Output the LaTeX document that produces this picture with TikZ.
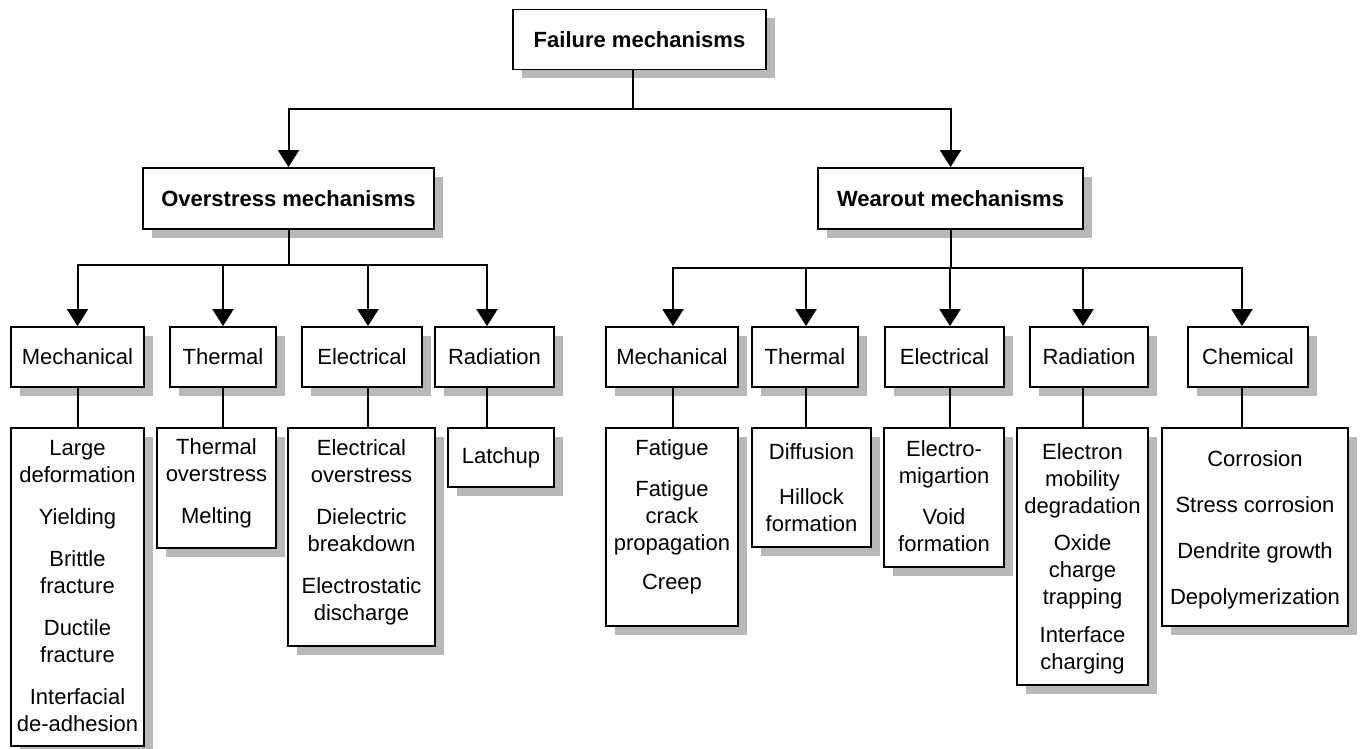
\documentclass[tikz,border=0pt]{standalone}
\usepackage{fontspec}
\setmainfont{Liberation Sans}
\usetikzlibrary{arrows.meta,shadows}
\newcommand{\dtext}[4]{\parbox[c][#2pt][t]{#1pt}{\centering\vspace*{#3pt}#4\par}}
\begin{document}
\begin{tikzpicture}[x=1pt,y=-1pt,
  box/.style={draw, line width=1.8pt, fill=white, inner sep=0pt,
    drop shadow={shadow xshift=9pt, shadow yshift=-9pt, fill=black!28, opacity=1},
    font=\fontsize{22}{27}\selectfont},
  cat/.style={box, minimum height=60pt, align=center},
  head/.style={box, font=\fontsize{22}{27}\selectfont\bfseries, minimum height=60pt},
  det/.style={box, anchor=north},
  ln/.style={line width=2pt},
  arr/.style={ln, -{Triangle[length=17pt,width=21pt]}}]
\useasboundingbox (0,0) rectangle (1360,749);

% top level
\node[head, minimum width=253pt] (fail) at (639.5,39.5) {Failure mechanisms};
\node[head, minimum width=291pt, minimum height=61pt] (over) at (288.5,198.5) {Overstress mechanisms};
\node[head, minimum width=265pt, minimum height=61pt] (wear) at (950.5,198.5) {Wearout mechanisms};

% categories
\node[cat, minimum width=133pt] (om) at (77.5,357) {Mechanical};
\node[cat, minimum width=106pt] (ot) at (223,357) {Thermal};
\node[cat, minimum width=120pt] (oe) at (362,357) {Electrical};
\node[cat, minimum width=119pt] (or) at (494.5,357) {Radiation};
\node[cat, minimum width=132pt] (wm) at (672,357) {Mechanical};
\node[cat, minimum width=106pt] (wt) at (805,357) {Thermal};
\node[cat, minimum width=119pt] (we) at (944.5,357) {Electrical};
\node[cat, minimum width=118pt] (wr) at (1089,357) {Radiation};
\node[cat, minimum width=120pt] (wc) at (1248,357) {Chemical};

% details
\node[det] (omd) at (77.5,427) {\dtext{133}{318}{12}{Large\\deformation\\[15pt]Yielding\\[15pt]Brittle\\fracture\\[15pt]Ductile\\fracture\\[15pt]Interfacial\\de-adhesion}};
\node[det] (otd) at (216.5,427) {\dtext{119}{120}{11}{Thermal\\overstress\\[15pt]Melting}};
\node[det] (oed) at (361.5,427) {\dtext{147}{218}{12}{Electrical\\overstress\\[15pt]Dielectric\\breakdown\\[15pt]Electrostatic\\discharge}};
\node[det] (ord) at (501,427) {\dtext{106}{59}{20}{Latchup}};
\node[det] (wmd) at (672,427) {\dtext{132}{198}{12}{Fatigue\\[14pt]Fatigue\\crack\\propagation\\[12pt]Creep}};
\node[det] (wtd) at (811.5,427) {\dtext{119}{119}{16}{Diffusion\\[18pt]Hillock\\formation}};
\node[det] (wed) at (944,427) {\dtext{120}{139}{13}{Electro-\\migartion\\[14pt]Void\\formation}};
\node[det] (wrd) at (1082.5,427) {\dtext{131}{257}{16}{Electron\\mobility\\degradation\\[10pt]Oxide\\charge\\trapping\\[11pt]Interface\\charging}};
\node[det] (wcd) at (1255,427) {\dtext{186}{198}{23}{Corrosion\\[19pt]Stress corrosion\\[19pt]Dendrite growth\\[19pt]Depolymerization}};

% connectors: top level
\draw[ln] ([xshift=-6.5pt]fail.south) -- ++(0,39) coordinate (j0);
\draw[arr] (j0) -| (over.north);
\draw[arr] (j0) -| (wear.north);

% overstress branch
\draw[ln] (over.south) -- ++(0,35) coordinate (j1);
\draw[arr] (j1) -| (om.north);
\draw[arr] (j1) -| (ot.north);
\draw[arr] (j1) -| ([xshift=6pt]oe.north);
\draw[arr] (j1) -| ([xshift=-7.5pt]or.north);

% wearout branch
\draw[ln] (wear.south) -- ++(0,38) coordinate (j2);
\draw[arr] (j2) -| ([xshift=1pt]wm.north);
\draw[arr] (j2) -| ([xshift=1pt]wt.north);
\draw[arr] (j2) -| ([xshift=5.5pt]we.north);
\draw[arr] (j2) -| ([xshift=-6pt]wr.north);
\draw[arr] (j2) -| ([xshift=-6pt]wc.north);

% category to detail
\draw[ln] (om.south) -- (om.south |- omd.north);
\draw[ln] (ot.south) -- (ot.south |- otd.north);
\draw[ln] ([xshift=6pt]oe.south) -- ([xshift=6pt]oe.south |- oed.north);
\draw[ln] ([xshift=-7.5pt]or.south) -- ([xshift=-7.5pt]or.south |- ord.north);
\draw[ln] ([xshift=1pt]wm.south) -- ([xshift=1pt]wm.south |- wmd.north);
\draw[ln] ([xshift=1pt]wt.south) -- ([xshift=1pt]wt.south |- wtd.north);
\draw[ln] ([xshift=5.5pt]we.south) -- ([xshift=5.5pt]we.south |- wed.north);
\draw[ln] ([xshift=-6pt]wr.south) -- ([xshift=-6pt]wr.south |- wrd.north);
\draw[ln] ([xshift=-6pt]wc.south) -- ([xshift=-6pt]wc.south |- wcd.north);
\end{tikzpicture}
\end{document}
